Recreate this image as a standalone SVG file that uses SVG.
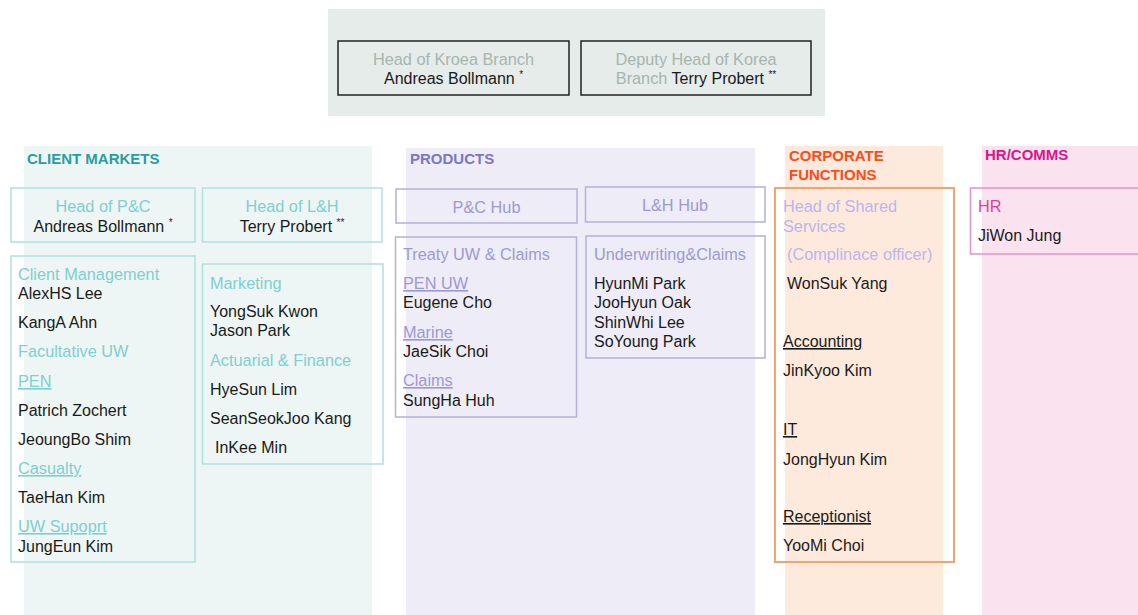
<svg xmlns="http://www.w3.org/2000/svg" width="1138" height="615" viewBox="0 0 1138 615">
<style>
text{font-family:"Liberation Sans",Arial,sans-serif;font-size:16.3px}
.nm{fill:#1a1a1a;font-size:16px}
.sup{font-size:10px}
.g{fill:#a6b5b0}
.tl{fill:#7fcfcf}
.pl{fill:#9d9ad0}
.lv{fill:#b8b6f0}
.hd{font-weight:bold;font-size:15px}
.u{text-decoration:underline}
.box{fill:none;stroke-width:1.5}
</style>
<rect x="0" y="0" width="1138" height="615" fill="#ffffff"/>
<!-- column backgrounds -->
<rect x="328" y="9" width="497" height="107" fill="#e6ecea"/>
<rect x="24" y="146" width="348" height="469" fill="#eef6f5"/>
<rect x="406" y="148" width="349" height="467" fill="#eeecf6"/>
<rect x="785" y="146" width="158" height="469" fill="#fdeadd"/>
<rect x="982" y="146" width="156" height="469" fill="#fae3ef"/>

<g id="head-korea">
<rect class="box" x="338" y="41" width="231" height="54" stroke="#222"/>
<text x="453.5" y="65" text-anchor="middle" class="g">Head of Kroea Branch</text>
<text x="453.5" y="84" text-anchor="middle" class="nm">Andreas Bollmann <tspan class="sup" dy="-6">*</tspan></text>
</g>
<g id="deputy-korea">
<rect class="box" x="581" y="41" width="230" height="54" stroke="#222"/>
<text x="696" y="65" text-anchor="middle" class="g">Deputy Head of Korea</text>
<text x="696" y="84" text-anchor="middle"><tspan class="g">Branch</tspan><tspan class="nm"> Terry Probert </tspan><tspan class="nm sup" dy="-6">**</tspan></text>
</g>

<g id="client-markets">
<text x="27" y="164" class="hd" fill="#2a9d9f">CLIENT MARKETS</text>
</g>
<g id="head-pc">
<rect class="box" x="11" y="188" width="184" height="54" stroke="#b0dfe0"/>
<text x="103" y="212" text-anchor="middle" class="tl">Head of P&amp;C</text>
<text x="103" y="232" text-anchor="middle" class="nm">Andreas Bollmann <tspan class="sup" dy="-6">*</tspan></text>
</g>
<g id="head-lh">
<rect class="box" x="202.5" y="188" width="179.5" height="54" stroke="#b0dfe0"/>
<text x="292" y="212" text-anchor="middle" class="tl">Head of L&amp;H</text>
<text x="292" y="232" text-anchor="middle" class="nm">Terry Probert <tspan class="sup" dy="-6">**</tspan></text>
</g>
<g id="client-management">
<rect class="box" x="11" y="256" width="184" height="306" stroke="#b0dfe0"/>
<text x="18" y="280" class="tl">Client Management</text>
<text x="18" y="299" class="nm">AlexHS Lee</text>
<text x="18" y="328" class="nm">KangA Ahn</text>
<text x="18" y="357" class="tl">Facultative UW</text>
<text x="18" y="387" class="tl u">PEN</text>
<text x="18" y="416" class="nm">Patrich Zochert</text>
<text x="18" y="445" class="nm">JeoungBo Shim</text>
<text x="18" y="474" class="tl u">Casualty</text>
<text x="18" y="503" class="nm">TaeHan Kim</text>
<text x="18" y="532" class="tl u">UW Supoprt</text>
<text x="18" y="552" class="nm">JungEun Kim</text>
</g>
<g id="marketing">
<rect class="box" x="202.5" y="264" width="180.5" height="200" stroke="#b0dfe0"/>
<text x="210" y="289" class="tl">Marketing</text>
<text x="210" y="317" class="nm">YongSuk Kwon</text>
<text x="210" y="336" class="nm">Jason Park</text>
<text x="210" y="366" class="tl">Actuarial &amp; Finance</text>
<text x="210" y="395" class="nm">HyeSun Lim</text>
<text x="210" y="424" class="nm">SeanSeokJoo Kang</text>
<text x="215" y="453" class="nm">InKee Min</text>
</g>

<g id="products">
<text x="410" y="164" class="hd" fill="#7b78c0">PRODUCTS</text>
</g>
<g id="pc-hub">
<rect class="box" x="396" y="189" width="181" height="34" stroke="#b3b0dc"/>
<text x="486.5" y="213" text-anchor="middle" class="pl">P&amp;C Hub</text>
</g>
<g id="lh-hub">
<rect class="box" x="585.5" y="187" width="179.5" height="35" stroke="#b3b0dc"/>
<text x="675" y="211" text-anchor="middle" class="pl">L&amp;H Hub</text>
</g>
<g id="treaty">
<rect class="box" x="395.5" y="237" width="181" height="180" stroke="#b3b0dc"/>
<text x="403" y="260" class="pl">Treaty UW &amp; Claims</text>
<text x="403" y="289" class="pl u">PEN UW</text>
<text x="403" y="308" class="nm">Eugene Cho</text>
<text x="403" y="338" class="pl u">Marine</text>
<text x="403" y="357" class="nm">JaeSik Choi</text>
<text x="403" y="386" class="pl u">Claims</text>
<text x="403" y="406" class="nm">SungHa Huh</text>
</g>
<g id="underwriting">
<rect class="box" x="586" y="236" width="179" height="122" stroke="#b3b0dc"/>
<text x="594" y="260" class="pl">Underwriting&amp;Claims</text>
<text x="594" y="289" class="nm">HyunMi Park</text>
<text x="594" y="308" class="nm">JooHyun Oak</text>
<text x="594" y="328" class="nm">ShinWhi Lee</text>
<text x="594" y="347" class="nm">SoYoung Park</text>
</g>

<g id="corporate-functions">
<text x="789" y="161" class="hd" fill="#ff4a1a">CORPORATE</text>
<text x="789" y="180" class="hd" fill="#ff4a1a">FUNCTIONS</text>
</g>
<g id="shared-services">
<rect x="775" y="188" width="179" height="374" fill="none" stroke="#f9a070" stroke-width="2"/>
<text x="783" y="212" class="lv">Head of Shared</text>
<text x="783" y="232" class="lv">Services</text>
<text x="787" y="260" class="lv">(Complinace officer)</text>
<text x="787" y="289" class="nm">WonSuk Yang</text>
<text x="783" y="347" class="nm u">Accounting</text>
<text x="783" y="376" class="nm">JinKyoo Kim</text>
<text x="783" y="435" class="nm u">IT</text>
<text x="783" y="465" class="nm">JongHyun Kim</text>
<text x="783" y="522" class="nm u">Receptionist</text>
<text x="783" y="551" class="nm">YooMi Choi</text>
</g>

<g id="hr-comms">
<text x="985" y="160" class="hd" fill="#e0128a">HR/COMMS</text>
</g>
<g id="hr">
<rect x="970.5" y="188" width="170" height="66" fill="none" stroke="#f08cc8" stroke-width="1.5"/>
<text x="978" y="212" fill="#e0409a">HR</text>
<text x="978" y="241" class="nm">JiWon Jung</text>
</g>

<g id="connectors"></g>
</svg>
